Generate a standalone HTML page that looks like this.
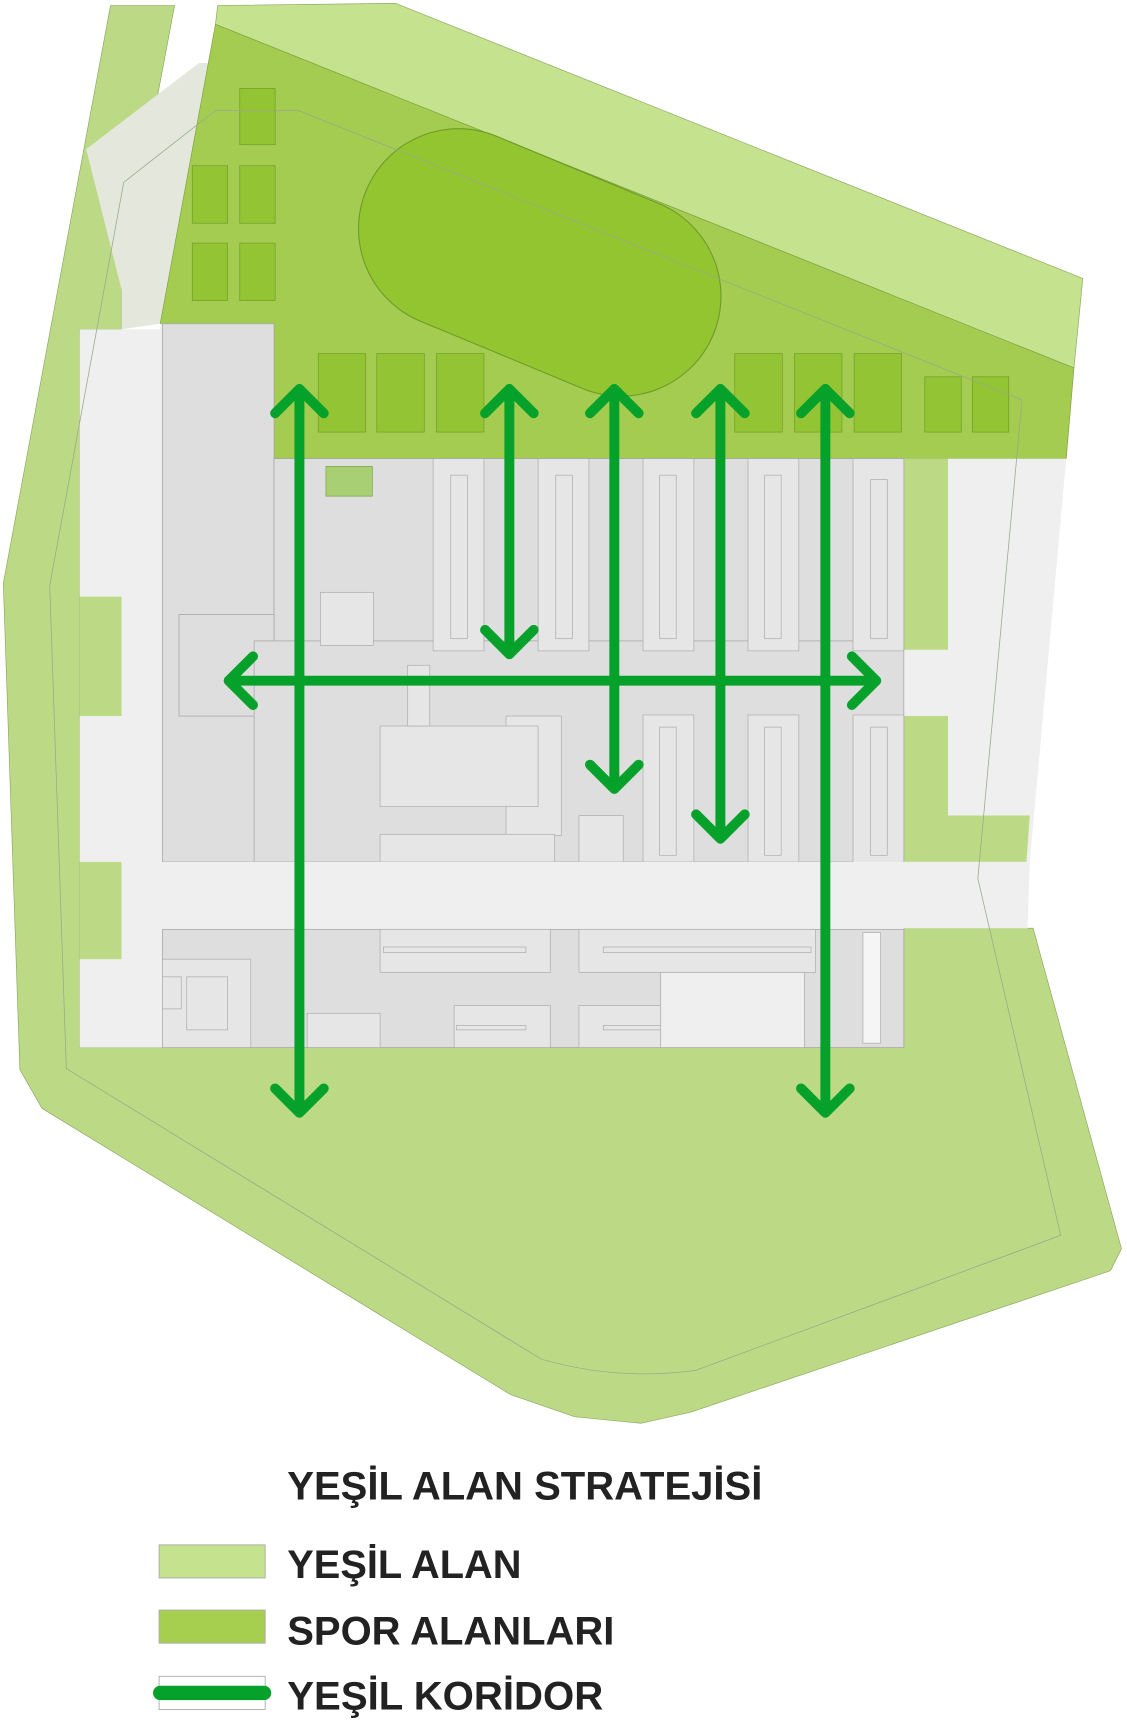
<!DOCTYPE html>
<html><head><meta charset="utf-8"><style>html,body{margin:0;padding:0;background:#fff}svg{display:block}</style></head>
<body>
<svg width="1127" height="1736" viewBox="0 0 1020 1571" preserveAspectRatio="none" xmlns="http://www.w3.org/2000/svg">
<rect width="1020" height="1571" fill="#fff"/>
<!-- outer green -->
<polygon points="100,5 158,5 110,260 110,298 72,298 72,948 818,948 818,840 935,840 1015,1130 1005,1150 625,1278 580,1288 520,1282 462,1262 38,1003 18,968 3,528" fill="#bcda86" stroke="#8aa860" stroke-width="0.6"/>
<!-- grey band top-left -->
<polygon points="78,135 180,57 195,57 145,293 110,298 110,262" fill="#e4e8dc"/>
<!-- light top band -->
<polygon points="197,5 358,3 980,252 972,333 195,22" fill="#c5e28e" stroke="#8aa860" stroke-width="0.6"/>
<!-- sport area -->
<polygon points="195,22 972,333 965,415 248,415 248,293 145,293" fill="#a4cc50" stroke="#7ea040" stroke-width="0.6"/>
<!-- stadium -->
<line x1="415" y1="207" x2="562" y2="268" stroke="#6f9a2a" stroke-width="182" stroke-linecap="round"/>
<line x1="415" y1="207" x2="562" y2="268" stroke="#93c530" stroke-width="180" stroke-linecap="round"/>
<g fill="#93c434" stroke="#6f9a2a" stroke-width="0.6">
<rect x="217" y="80" width="32" height="51"/><rect x="174" y="150" width="32" height="52"/><rect x="217" y="150" width="32" height="52"/>
<rect x="174" y="220" width="32" height="52"/><rect x="217" y="220" width="32" height="52"/>
<rect x="288" y="320" width="43" height="71"/><rect x="341" y="320" width="43" height="71"/><rect x="395" y="320" width="43" height="71"/>
<rect x="665" y="320" width="43" height="71"/><rect x="719" y="320" width="43" height="71"/><rect x="773" y="320" width="43" height="71"/>
<rect x="837" y="341" width="33" height="50"/><rect x="880" y="341" width="33" height="50"/>
</g>
<!-- grey site -->
<polygon points="72,298 145,298 145,293 248,293 248,415 965,415 932,780 930,840 72,840" fill="#efefef"/>
<rect x="72" y="840" width="746" height="108" fill="#efefef"/>
<g fill="#bcda86">
<rect x="72" y="540" width="38" height="108"/><rect x="72" y="780" width="38" height="88"/>
<rect x="818" y="415" width="40" height="173"/>
<polygon points="818,648 858,648 858,738 932,738 929,780 818,780"/>
</g>
<!-- buildings -->
<g fill="#dedede" stroke="#a8a8a8" stroke-width="0.7">
<rect x="147" y="293" width="101" height="487"/>
<rect x="248" y="415" width="570" height="165"/>
<rect x="162" y="556" width="86" height="92"/>
<rect x="230" y="580" width="588" height="200"/>
<rect x="147" y="841" width="671" height="107"/>
</g>
<g fill="#e6e6e6" stroke="#a8a8a8" stroke-width="0.6">
<rect x="392" y="415" width="46" height="174"/><rect x="487" y="415" width="46" height="174"/><rect x="582" y="415" width="46" height="174"/>
<rect x="677" y="415" width="46" height="174"/><rect x="772" y="415" width="46" height="174"/>
<rect x="408" y="430" width="15" height="148"/><rect x="503" y="430" width="15" height="148"/><rect x="597" y="430" width="15" height="148"/>
<rect x="692" y="430" width="15" height="148"/><rect x="788" y="434" width="15" height="144"/>
<rect x="582" y="647" width="46" height="133"/><rect x="677" y="647" width="46" height="133"/><rect x="772" y="647" width="46" height="142"/>
<rect x="597" y="658" width="15" height="116"/><rect x="692" y="658" width="15" height="116"/><rect x="788" y="658" width="15" height="116"/>
<rect x="290" y="536" width="48" height="48"/>
<rect x="458" y="648" width="50" height="108"/>
<rect x="344" y="657" width="143" height="73"/>
<rect x="344" y="755" width="158" height="25"/>
<rect x="524" y="738" width="40" height="42"/>
<rect x="369" y="602" width="20" height="55"/>
<rect x="147" y="868" width="80" height="80"/><rect x="169" y="884" width="37" height="48"/><rect x="147" y="884" width="17" height="29"/>
<rect x="344" y="841" width="154" height="39"/><rect x="347" y="857" width="129" height="5"/>
<rect x="411" y="910" width="87" height="38"/><rect x="413" y="928" width="63" height="4"/>
<rect x="524" y="841" width="214" height="39"/><rect x="546" y="857" width="188" height="5"/>
<rect x="524" y="910" width="130" height="38"/><rect x="546" y="928" width="104" height="4"/>
<rect x="598" y="880" width="130" height="68" fill="#efefef"/>
<rect x="781" y="844" width="16" height="100" fill="#f5f5f5"/>
<rect x="278" y="917" width="66" height="31"/>
</g>
<rect x="295" y="422" width="42" height="27" fill="#a8cf73" stroke="#7ea040" stroke-width="0.6"/>
<!-- road -->
<rect x="110" y="780" width="820" height="60" fill="#efefef"/>
<path d="M60,967 L45,530 L112,165 L195,100 L270,100 L925,362 L885,795 L960,1118 L630,1240 Q560,1250 490,1230 Z" fill="none" stroke="#9aa88a" stroke-width="0.7"/>
<!-- arrows -->
<g stroke="#05a12a" stroke-width="9" fill="none" stroke-linecap="round" stroke-linejoin="round">
<line x1="271" y1="352" x2="271" y2="1005"/><polyline points="249,374 271,352 293,374"/><polyline points="249,985 271,1007 293,985"/>
<line x1="747" y1="352" x2="747" y2="1005"/><polyline points="725,374 747,352 769,374"/><polyline points="725,985 747,1007 769,985"/>
<line x1="461" y1="352" x2="461" y2="590"/><polyline points="439,374 461,352 483,374"/><polyline points="439,570 461,592 483,570"/>
<line x1="556" y1="352" x2="556" y2="712"/><polyline points="534,374 556,352 578,374"/><polyline points="534,692 556,714 578,692"/>
<line x1="652" y1="352" x2="652" y2="757"/><polyline points="630,374 652,352 674,374"/><polyline points="630,737 652,759 674,737"/>
<line x1="207" y1="616" x2="793" y2="616"/><polyline points="229,594 207,616 229,638"/><polyline points="771,594 793,616 771,638"/>
</g>
<!-- legend -->
<g font-family="Liberation Sans, sans-serif" font-weight="bold" fill="#222">
<text x="260" y="1357" font-size="36" textLength="430" lengthAdjust="spacingAndGlyphs">YEŞİL ALAN STRATEJİSİ</text>
<text x="260" y="1428" font-size="36" textLength="212" lengthAdjust="spacingAndGlyphs">YEŞİL ALAN</text>
<text x="260" y="1488" font-size="36" textLength="296" lengthAdjust="spacingAndGlyphs">SPOR ALANLARI</text>
<text x="260" y="1547" font-size="36" textLength="286" lengthAdjust="spacingAndGlyphs">YEŞİL KORİDOR</text>
</g>
<rect x="144" y="1398" width="96" height="30" fill="#c5e28e" stroke="#aaa" stroke-width="0.8"/>
<rect x="144" y="1457" width="96" height="30" fill="#a6cf50" stroke="#aaa" stroke-width="0.8"/>
<rect x="144" y="1517" width="96" height="30" fill="#fff" stroke="#aaa" stroke-width="0.8"/>
<line x1="145" y1="1532" x2="239" y2="1532" stroke="#05a12a" stroke-width="13" stroke-linecap="round"/>
</svg>
</body></html>
